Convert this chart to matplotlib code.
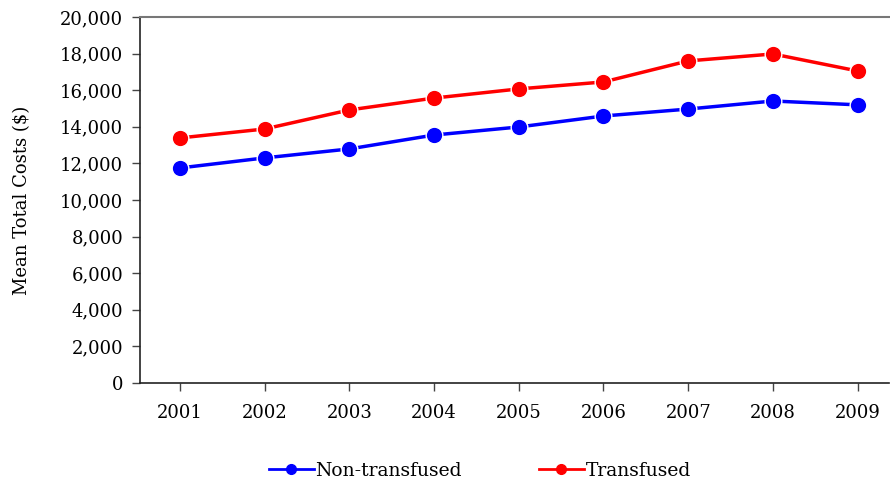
import matplotlib.pyplot as plt
from matplotlib.ticker import FuncFormatter
from matplotlib.lines import Line2D

years = [2001, 2002, 2003, 2004, 2005, 2006, 2007, 2008, 2009]
non_transfused = [11750, 12300, 12790, 13550, 13990, 14590, 14970, 15410, 15200]
transfused = [13390, 13880, 14920, 15570, 16070, 16450, 17600, 17980, 17050]

plt.rcParams['font.family'] = ['DejaVu Serif']

fig = plt.figure(figsize=(8.9, 4.84), dpi=100)
ax = fig.add_axes([140 / 890, 1 - 383 / 484, 749 / 890, 366 / 484])

ax.plot(years, non_transfused, color='#0000ff', lw=2.5, marker='o', ms=12,
        mec='white', mew=1, label='Non-transfused')
ax.plot(years, transfused, color='#ff0000', lw=2.5, marker='o', ms=12,
        mec='white', mew=1, label='Transfused')

ax.set_xlim(2000.53, 2009.37)
ax.set_ylim(0, 20000)
ax.set_yticks(range(0, 20001, 2000))
ax.yaxis.set_major_formatter(FuncFormatter(lambda v, p: f'{int(v):,}'))
ax.set_xticks(years)
ax.tick_params(axis='both', labelsize=13, direction='out', length=6,
               width=1, color='#444444')
ax.tick_params(axis='y', pad=6)
ax.tick_params(axis='x', pad=9)
ax.set_ylabel('Mean Total Costs ($)', fontsize=13, labelpad=21)

ax.spines['right'].set_visible(False)
ax.spines['top'].set_color('#777777')
ax.spines['top'].set_linewidth(1.5)
for s in ['left', 'bottom']:
    ax.spines[s].set_color('#222222')
    ax.spines[s].set_linewidth(1.2)

# legend uses thinner lines and small dots
handles = [Line2D([], [], color='#0000ff', lw=2, marker='o', ms=7),
           Line2D([], [], color='#ff0000', lw=2, marker='o', ms=7)]
labels = ['Non-transfused', 'Transfused']
fig.legend(handles, labels, loc='center', bbox_to_anchor=(0.539, 1 - 471 / 484),
           ncol=2, frameon=False, fontsize=13.5, handlelength=2.4,
           columnspacing=4.1, handletextpad=0.1)

fig.savefig('out.png', dpi=100)
